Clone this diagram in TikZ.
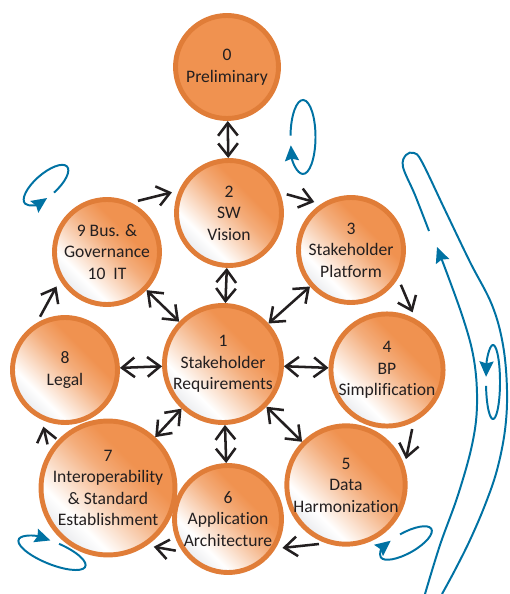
\documentclass[tikz,border=0pt]{standalone}
\usepackage{fontspec}
\setmainfont[Ligatures=NoCommon]{Carlito}
\usepackage{xcolor}
\usepackage{tikz}
\usetikzlibrary{
  arrows.meta,
  shapes.geometric,
  positioning,
  calc
}
\definecolor{stagefill}{RGB}{240,146,80}
\definecolor{stageline}{RGB}{224,125,56}
\definecolor{sheengray}{RGB}{226,227,231}
\definecolor{loopblue}{RGB}{0,114,163}
\definecolor{ink}{RGB}{35,31,32}
\pgfdeclarehorizontalshading{sheen}{100bp}{color(0bp)=(sheengray); color(25bp)=(sheengray!70); color(33bp)=(white); color(41bp)=(stagefill!30); color(53bp)=(stagefill!75); color(63bp)=(stagefill); color(100bp)=(stagefill)}

\begin{document}
\begin{tikzpicture}[
  ball/.style={circle, draw=stageline, line width=3.5pt,
               minimum size=2.625cm, inner sep=0pt, align=center, text=ink,
               font=\fontsize{12.5}{15.3}\selectfont},
  stage/.style={ball, shading=sheen, shading angle=45},
  flow/.style={-{Straight Barb[length=9pt,width=14pt]}, line width=1.8pt, draw=ink,
               shorten <=5pt, shorten >=5pt},
  both/.style={{Straight Barb[length=9pt,width=14pt]}-{Straight Barb[length=9pt,width=14pt]},
               line width=1.8pt, draw=ink},
  spin/.style={-{Stealth[length=11pt,width=10pt,inset=1.5pt]}, line width=1.4pt, draw=loopblue}
]
  \useasboundingbox (-5.575,-5.75) rectangle (7.15,9.1);

  \node[ball, fill=stagefill, minimum size=2.575cm] (c0) at (0.1,7.425) {0\\Preliminary};
  \node[stage, minimum size=2.925cm] (c1) at (0,0)      {1\\Stakeholder\\Requirements};
  \node[stage] (c2) at (0.15,3.775)   {2\\SW\\Vision};
  \node[stage] (c3) at (3.2,2.85)     {3\\Stakeholder\\Platform};
  \node[stage, minimum size=2.675cm] (c4) at (4.1,-0.15)    {4\\BP\\Simplification};
  \node[stage, minimum size=2.775cm] (c5) at (3.075,-3.025) {5\\Data\\Harmonization};
  \node[stage, minimum size=2.675cm] (c6) at (0.125,-3.875) {6\\Application\\Architecture};
  \node[stage, minimum size=2.875cm] (c7) at (-2.875,-3.1)  {7\\Interoperability\\\& Standard\\Establishment};
  \node[stage] (c8) at (-3.95,-0.15)  {8\\Legal};
  \node[stage] (c9) at (-2.9,2.8)     {9 Bus. \&\\Governance\\10~~IT};

  % spokes
  \draw[both] (c0) -- (c2);
  \draw[both] (c2) -- (c1);
  \draw[both] (c1) -- (c3);
  \draw[both] (c1) -- (c4);
  \draw[both] (c1) -- (c5);
  \draw[both] (c1) -- (c6);
  \draw[both] (c1) -- (c7);
  \draw[both] (c1) -- (c8);
  \draw[both] (c1) -- (c9);

  % ring
  \draw[flow] (c9.64)   -- (c2.156);
  \draw[flow] (c2.22)   -- (c3.123);
  \draw[flow] (c3.-31)  -- (c4.61);
  \draw[flow] (c4.-63)  -- (c5.18);
  \draw[flow] (c5.-109) -- (c6.-32);
  \draw[flow] (c6.216)  -- (c7.-56);
  \draw[flow] (c7.148)  -- (c8.245);
  \draw[flow] (c8.121)  -- (c9.211);

  % feedback loops
  \draw[spin, shift={(-4.425,4.475)}, rotate=41]
    (-88:0.7 and 0.275) arc[start angle=-88, end angle=254, x radius=0.7, y radius=0.275];
  \draw[spin, shift={(2.0,5.675)}]
    (178:0.3125 and 0.925) arc[start angle=178, end angle=-167, x radius=0.3125, y radius=0.925];
  \draw[spin, shift={(-4.275,-4.725)}, rotate=-22]
    (85:0.9 and 0.28) arc[start angle=85, end angle=-260, x radius=0.9, y radius=0.28];
  \draw[spin, shift={(4.575,-4.475)}, rotate=29]
    (92:0.725 and 0.26) arc[start angle=92, end angle=-245, x radius=0.725, y radius=0.26];
  \draw[spin, shift={(6.75,-0.45)}]
    (186:0.175 and 0.925) arc[start angle=186, end angle=532, x radius=0.175, y radius=0.925];
  \draw[spin] plot[smooth, tension=0.6] coordinates {(5.05,-5.75) (5.425,-4.525) (5.875,-3.275)
    (6.225,-2.025) (6.35,-1.025) (6.275,0.1) (5.975,1.225) (5.35,2.925)};
  \draw[spin, -] plot[smooth, tension=0.6] coordinates {(5.15,3.325) (4.8,4.225) (4.5,4.925)
    (4.575,5.225) (4.775,5.275) (4.975,5.05) (5.55,3.85) (6.175,2.55) (6.725,1.475) (7.0,0.475)
    (7.1,-0.65) (7.05,-1.65) (6.85,-2.65) (6.55,-3.525) (6.175,-4.4) (5.8,-5.15) (5.475,-5.75)};
\end{tikzpicture}
\end{document}
